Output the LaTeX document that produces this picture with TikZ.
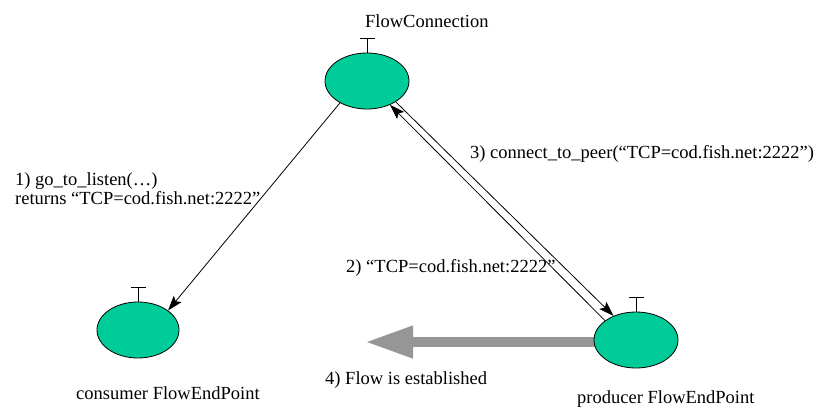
\documentclass[tikz,border=0pt]{standalone}
\usepackage{fontspec}
\setmainfont{Liberation Serif}
\usetikzlibrary{shapes.geometric,arrows.meta}
\definecolor{ellfill}{RGB}{0,204,153}
\definecolor{flowgray}{RGB}{150,150,150}
\begin{document}
\begin{tikzpicture}[x=1pt,y=-1pt,
  ep/.style={ellipse,draw=black,line width=0.8pt,fill=ellfill,inner sep=0pt,minimum width=84pt,minimum height=56pt},
  lbl/.style={font=\fontsize{18.5}{20}\selectfont,inner sep=0pt,anchor=base west},
  conn/.style={draw=black,line width=0.8pt,-{Stealth[length=15pt,width=10pt,inset=3pt]}},
  tee/.style={draw=black,line width=0.8pt},
  flowarrow/.style={draw=flowgray,line width=10pt,-{Triangle[length=48pt,width=30pt]}}]
\useasboundingbox (0,0) rectangle (822,408);
% gray flow arrow (under the producer ellipse)
\coordinate (fs) at (610,342);
\coordinate (ft) at (365,342);
\draw[flowarrow] (fs) -- (ft);
% ellipses
\node[ep] (top) at (367,81) {};
\node[ep,minimum width=82pt] (cons) at (138,330) {};
\node[ep] (prod) at (636,340) {};
% T marks
\foreach \n in {top,cons,prod}{
  \draw[tee] (\n.north) -- ++(0,-14) coordinate (\n T);
  \draw[tee] ([xshift=-7.5pt]\n T) -- ([xshift=7.5pt]\n T);
}
% connectors
\draw[conn] (top.219.4) -- (cons.33.7);
\draw[conn] (top.324.6) -- (prod.133.8);
\draw[conn] (prod.148) -- (top.314);
% labels
\node[lbl] (lconn) at (365,27) {FlowConnection};
\node[lbl] (lcons) at (76,399) {consumer FlowEndPoint};
\node[lbl] (lprod) at (577,403) {producer FlowEndPoint};
\node[lbl] (l1a) at (15,185) {1) go\_to\_listen(…)};
\node[lbl] (l1b) at (15,204) {returns “TCP=cod.fish.net:2222”};
\node[lbl] (l2) at (346,272) {2) “TCP=cod.fish.net:2222”};
\node[lbl] (l3) at (470,158) {3) connect\_to\_peer(“TCP=cod.fish.net:2222”)};
\node[lbl] (l4) at (325,384) {4) Flow is established};
\end{tikzpicture}
\end{document}
